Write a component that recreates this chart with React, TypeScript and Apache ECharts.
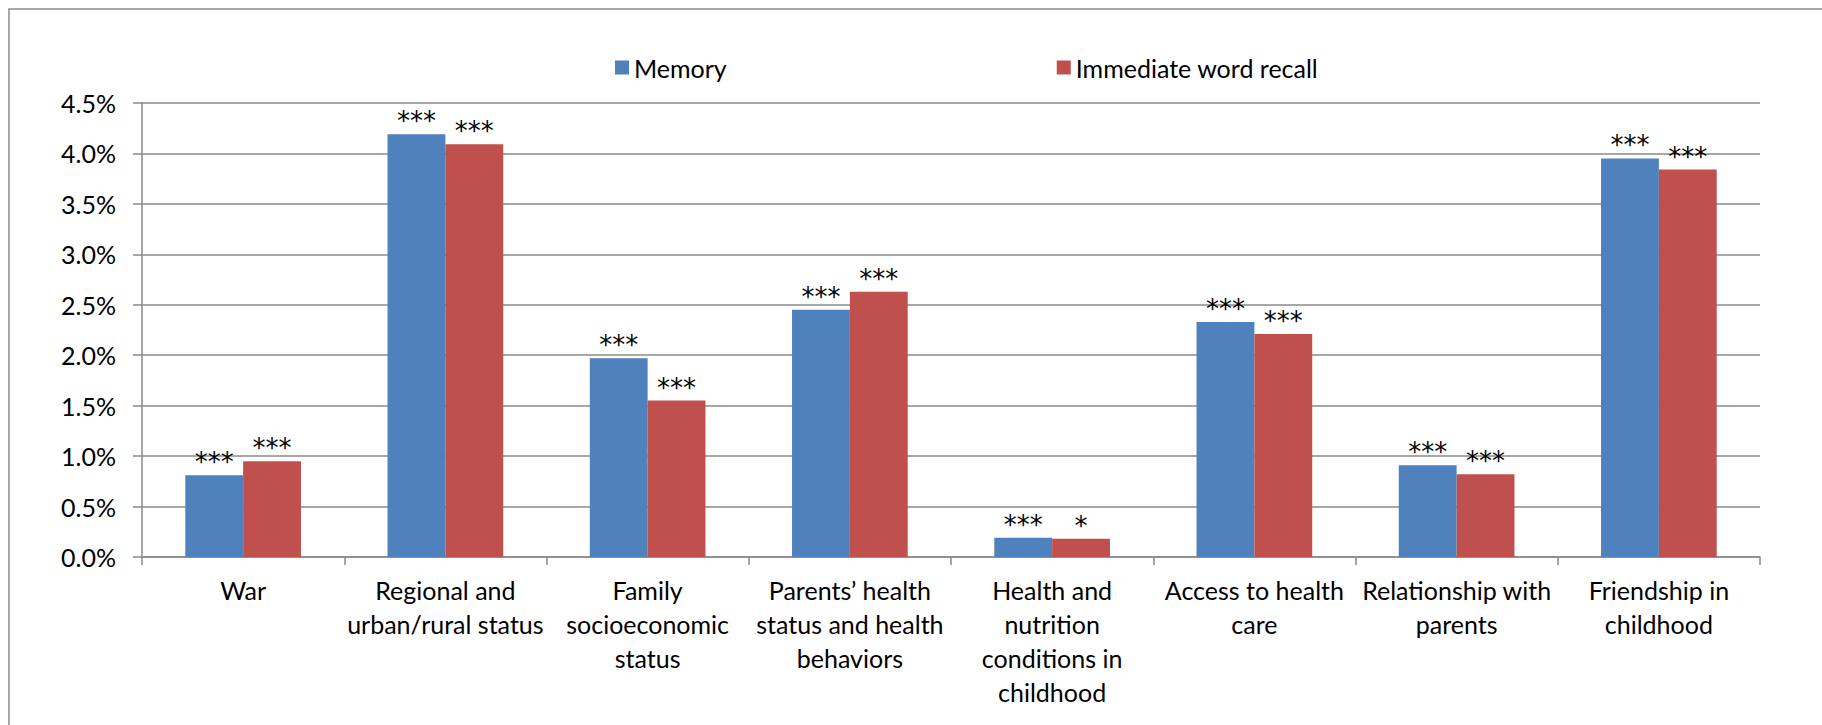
import React, { useEffect, useRef } from "react";
import * as echarts from "echarts";

const categories = [
  "War",
  "Regional and\nurban/rural status",
  "Family\nsocioeconomic\nstatus",
  "Parents\u2019 health\nstatus and health\nbehaviors",
  "Health and\nnutrition\nconditions in\nchildhood",
  "Access to health\ncare",
  "Relationship with\nparents",
  "Friendship in\nchildhood",
];

const memory = [0.81, 4.19, 1.97, 2.45, 0.19, 2.33, 0.91, 3.95];
const recall = [0.95, 4.09, 1.55, 2.63, 0.18, 2.21, 0.82, 3.84];

const memorySig = ["***", "***", "***", "***", "***", "***", "***", "***"];
const recallSig = ["***", "***", "***", "***", "*", "***", "***", "***"];

const yTicks = [0, 0.5, 1.0, 1.5, 2.0, 2.5, 3.0, 3.5, 4.0, 4.5];

const FONT = "Lato";
const STAR_FONT = "DejaVu Sans";

export default function App() {
  const ref = useRef<HTMLDivElement>(null);
  useEffect(() => {
    if (!ref.current) return;
    const chart = echarts.init(ref.current, null, { renderer: "svg" });
    const gridColor = "#8a8a8a";
    const starLabel = (sig: string[]) => ({
      show: true,
      position: "top",
      distance: 0,
      fontFamily: STAR_FONT,
      fontSize: 26,
      color: "#000",
      formatter: (p: any) => sig[p.dataIndex],
    });
    chart.setOption({
      animation: false,
      backgroundColor: "#ffffff",
      textStyle: { fontFamily: FONT },
      graphic: [
        {
          type: "rect",
          shape: { x: 9, y: 9, width: 1840, height: 740 },
          style: { fill: "none", stroke: "#8a8a8a", lineWidth: 1.5 },
          silent: true,
        },
      ],
      legend: {
        left: 610,
        top: 50,
        itemWidth: 14,
        itemHeight: 14,
        itemGap: 330,
        icon: "rect",
        textStyle: { fontFamily: FONT, fontSize: 25, color: "#000" },
        data: ["Memory", "Immediate word recall"],
      },
      grid: { left: 142, right: 62, top: 103, bottom: 168, containLabel: false },
      xAxis: {
        type: "category",
        data: categories,
        axisLine: { lineStyle: { color: gridColor, width: 1.5 } },
        axisTick: { show: true, length: 8, lineStyle: { color: gridColor, width: 1.5 } },
        axisLabel: {
          interval: 0,
          margin: 16,
          fontFamily: FONT,
          fontSize: 25,
          lineHeight: 34,
          color: "#000",
          align: "center",
        },
      },
      yAxis: {
        type: "value",
        min: 0,
        max: yTicks[yTicks.length - 1],
        interval: 0.5,
        axisLine: { show: true, lineStyle: { color: gridColor, width: 1.5 } },
        axisTick: { show: true, length: 9, lineStyle: { color: gridColor, width: 1.5 } },
        splitLine: { show: true, lineStyle: { color: gridColor, width: 1.5 } },
        axisLabel: {
          margin: 26,
          fontFamily: FONT,
          fontSize: 25,
          color: "#000",
          formatter: (v: number) => v.toFixed(1) + "%",
        },
      },
      series: [
        {
          name: "Memory",
          type: "bar",
          data: memory,
          barGap: "0%",
          barCategoryGap: "42.8%",
          itemStyle: { color: "#4F81BD" },
          label: starLabel(memorySig),
        },
        {
          name: "Immediate word recall",
          type: "bar",
          data: recall,
          barGap: "0%",
          barCategoryGap: "42.8%",
          itemStyle: { color: "#C0504D" },
          label: starLabel(recallSig),
        },
      ],
    });
    return () => chart.dispose();
  }, []);
  return (
    <div
      ref={ref}
      style={{ position: "fixed", left: 0, top: 0, width: 1822, height: 725 }}
    />
  );
}
